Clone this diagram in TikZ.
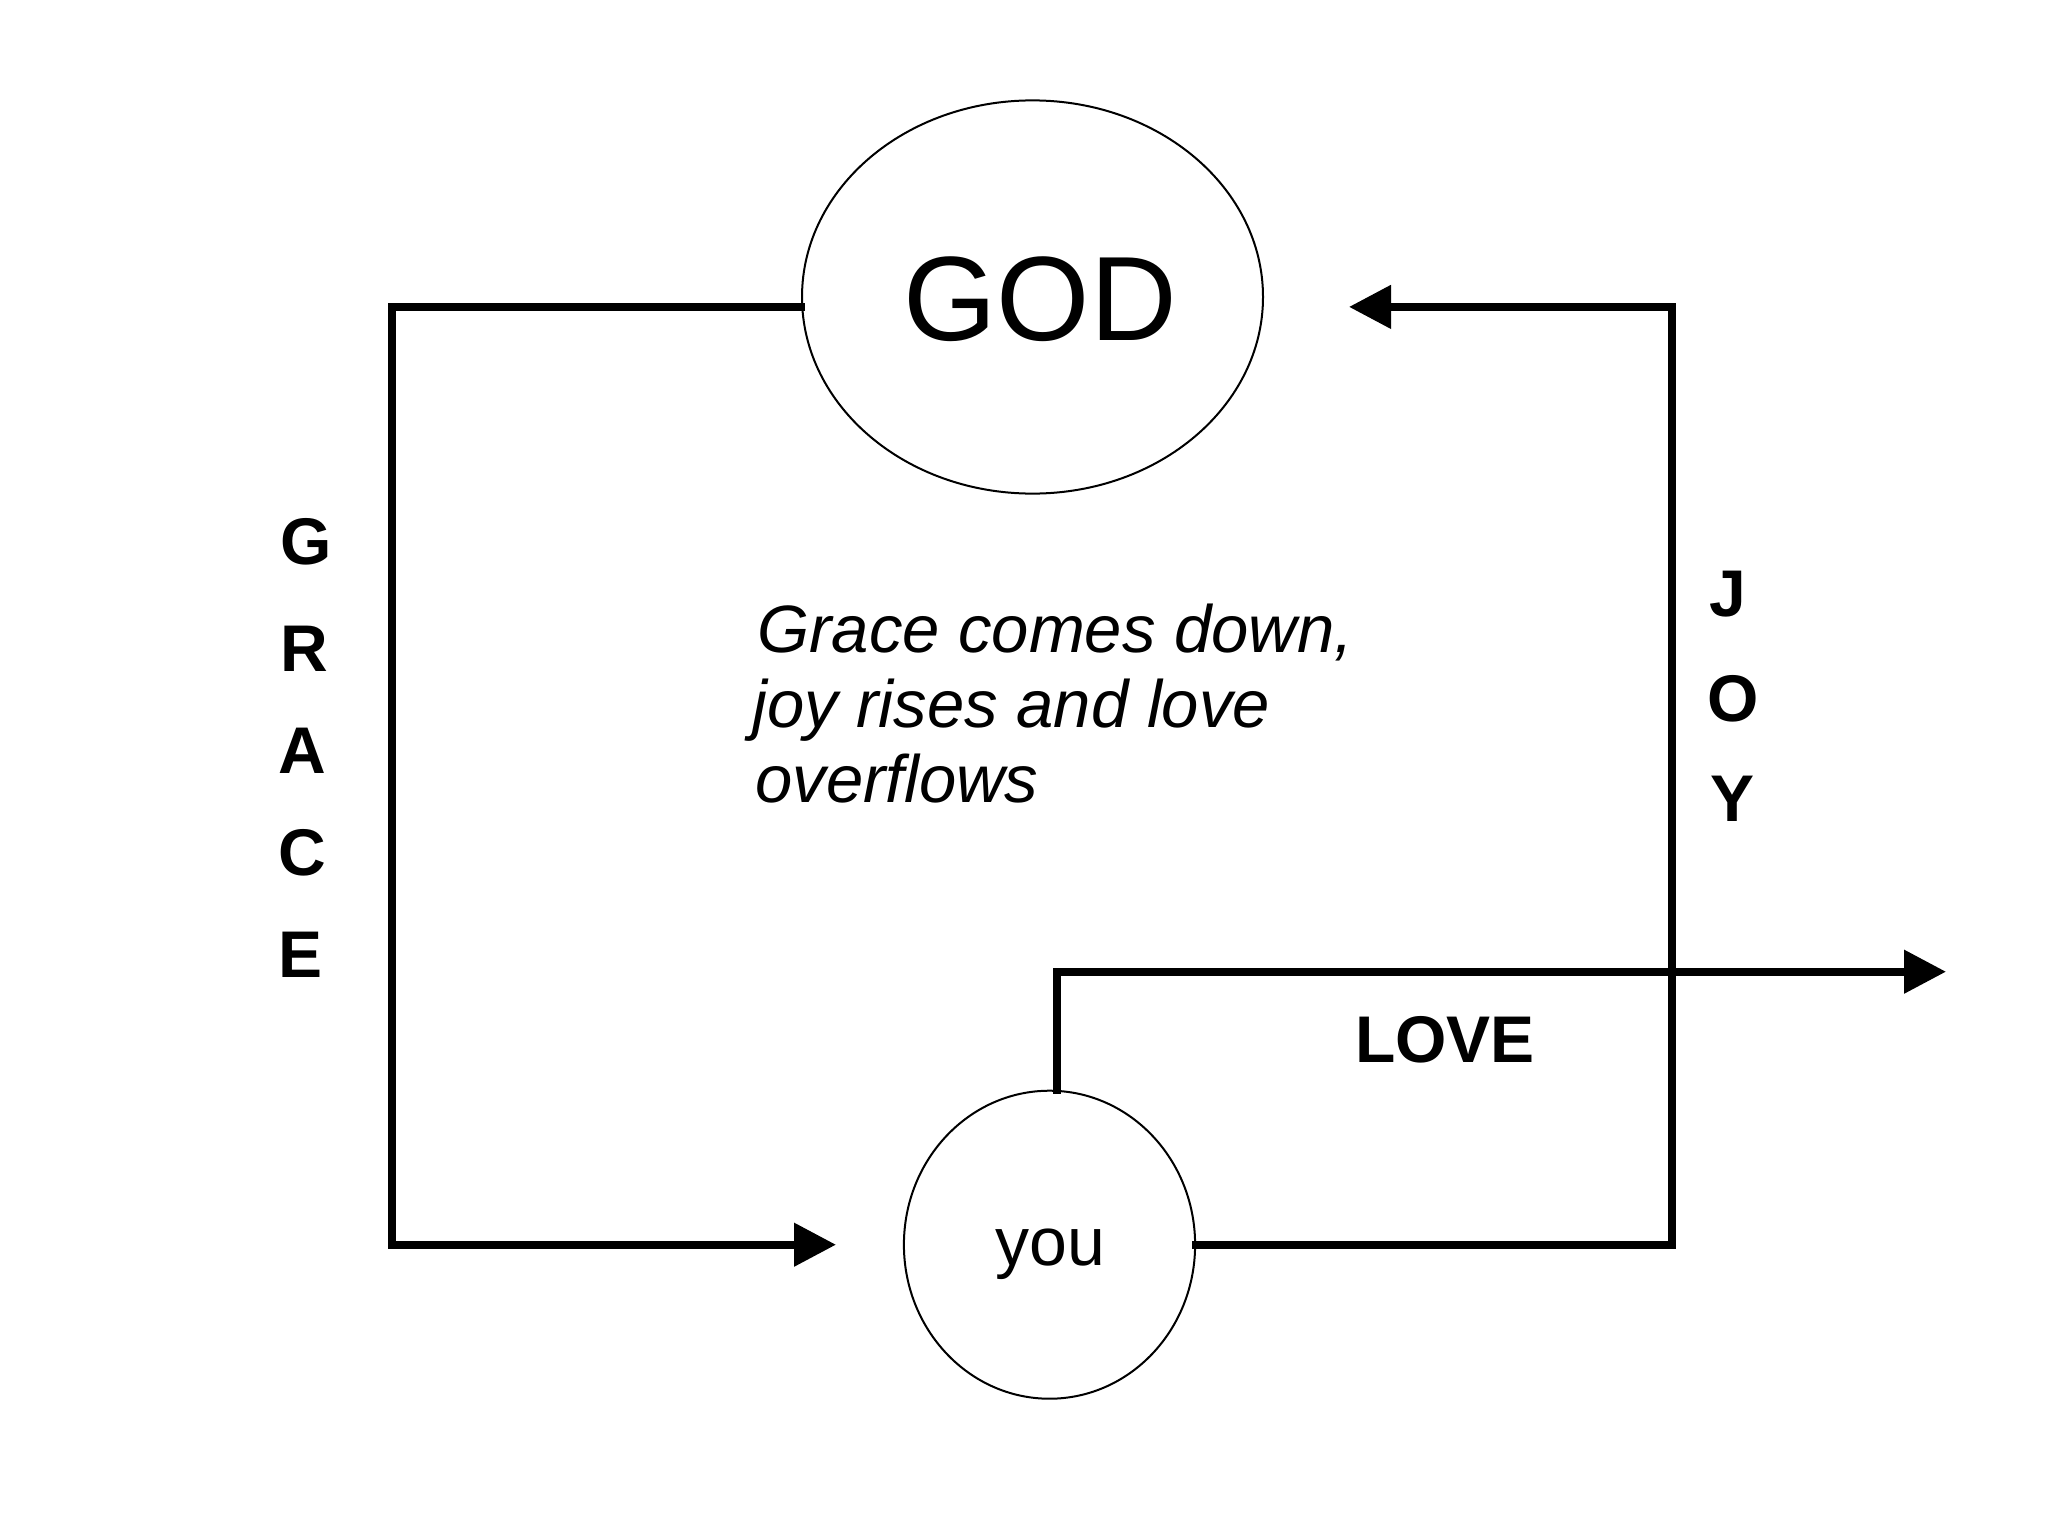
\documentclass[tikz,border=0pt]{standalone}
\usepackage{fontspec}
\setmainfont{Liberation Sans}
\usetikzlibrary{arrows.meta,shapes.geometric}
\begin{document}
\begin{tikzpicture}[x=0.5pt,y=-0.5pt,
  flow/.style={line width=3.9pt,line cap=rect},
  flowarrow/.style={flow,-{Triangle[length=21pt,width=21pt]}},
  bubble/.style={draw,line width=1pt,ellipse,inner sep=0pt},
  vletter/.style={font=\fontsize{33}{33}\selectfont\bfseries,inner sep=0pt},
  note/.style={font=\fontsize{33.5}{37.5}\selectfont\itshape,anchor=base west,inner sep=0pt}]
\useasboundingbox (0,0) rectangle (2048,1536);
% nodes
\node[bubble,minimum width=230.5pt,minimum height=196.6pt] (god) at (1032.5,297) {};
\node[font=\fontsize{60}{60}\selectfont,inner sep=0pt] (godtext) at (1040,299) {GOD};
\node[bubble,minimum width=145.6pt,minimum height=154pt] (you) at (1049.5,1244.7) {};
\node[font=\fontsize{34}{34}\selectfont,inner sep=0pt] (youtext) at (1050,1254) {you};
% corner coordinates
\coordinate (tl) at (391.8,306.9);
\coordinate (bl) at (391.8,1244.7);
\coordinate (gtip) at (836,1244.7);
\coordinate (tr) at (1671.8,306.9);
\coordinate (br) at (1671.8,1244.7);
\coordinate (jtip) at (1349,306.9);
\coordinate (lv) at (1056.6,971.7);
\coordinate (ltip) at (1946,971.7);
% grace
\draw[flowarrow] (tl -| god.west) -- (tl) -- (bl) -- (gtip);
% joy
\draw[flowarrow] (you.east) -- (br) -- (tr) -- (jtip);
% love
\draw[flowarrow] (you.north -| lv) -- (lv) -- (ltip);
% labels
\node[vletter] (g1) at (306,542) {G};
\node[vletter] (g2) at (304.3,649) {R};
\node[vletter] (g3) at (302,751) {A};
\node[vletter] (g4) at (302,853) {C};
\node[vletter] (g5) at (301,955) {E};
\node[vletter] (j1) at (1728,594) {J};
\node[vletter] (j2) at (1733,699) {O};
\node[vletter] (j3) at (1732,799) {Y};
\node[font=\fontsize{33}{33}\selectfont\bfseries,inner sep=0pt] (love) at (1445,1039.6) {LOVE};
\node[note] (t1) at (757,652) {Grace comes down,};
\node[note] (t2) at (752,727.5) {joy rises and love};
\node[note] (t3) at (755,802) {overflows};
\end{tikzpicture}
\end{document}
